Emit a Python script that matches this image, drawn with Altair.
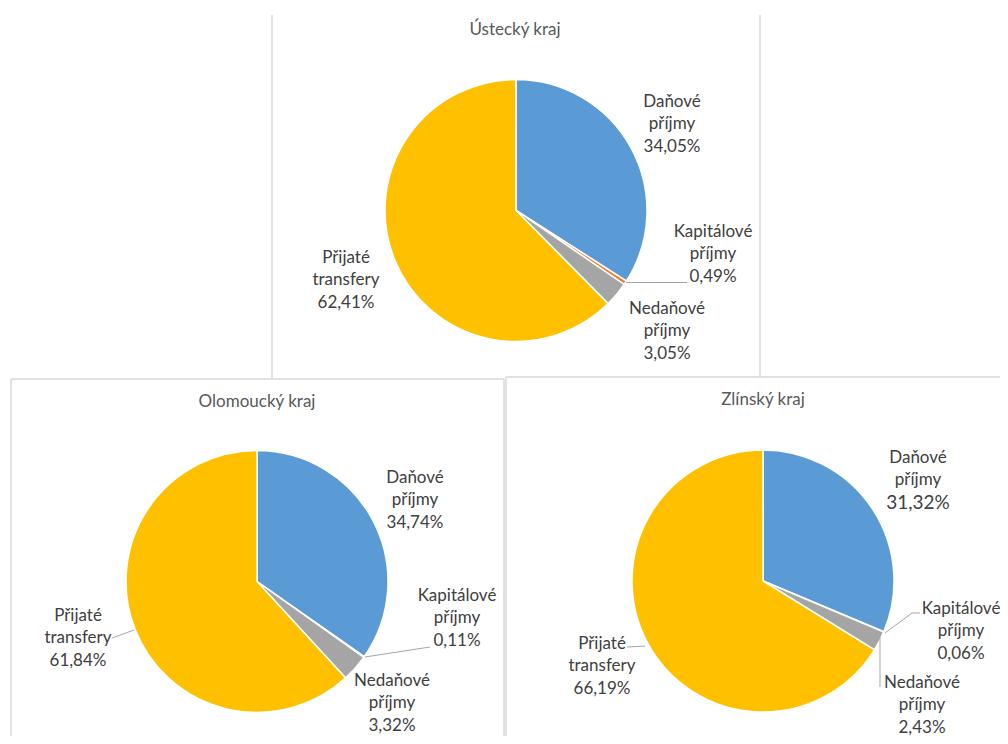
import altair as alt
import pandas as pd

# ---------------- data ----------------
REGIONS = ["Ústecký kraj", "Olomoucký kraj", "Zlínský kraj"]
CATEGORIES = ["Daňové příjmy", "Kapitálové příjmy", "Nedaňové příjmy", "Přijaté transfery"]
USTECKY = [34.05, 0.49, 3.05, 62.41]
OLOMOUCKY = [34.74, 0.11, 3.32, 61.84]
ZLINSKY = [31.32, 0.06, 2.43, 66.19]
VALUES = [USTECKY, OLOMOUCKY, ZLINSKY]

COLORS = ["#5B9BD5", "#ED7D31", "#A5A5A5", "#FFC000"]

# ---------------- layout (page pixels) ----------------
OFF = 8  # page margin
PIE_CENTERS = [(516, 210.5), (257, 581.5), (763, 581)]
RADIUS = 131
TITLE_POS = [(515, 30), (257, 402), (763, 400)]
# label middle-line positions
LABEL_POS = [
    [(672, 124), (713, 254), (667, 331), (346, 280)],
    [(415, 500), (457, 618), (392, 703), (78, 638)],
    [(918, 480), (961, 631), (922, 705), (602, 666)],
]
BIG_PCT = {(2, 0): 19}  # Zlín Daňové percentage drawn larger
LINE_H = 22.5
FONT = "Lato"

LEADERS = [
    (626, 282.5, 687, 282.5),
    (365, 657, 430, 647),
    (112, 638, 134, 630),
    (627, 647, 645, 646),
    (885, 633, 912, 613),
    (912, 613, 920, 613),
    (880, 637, 880, 687),
]
BORDERS = [
    (272, 15, 272, 378),
    (760, 15, 760, 377),
    (11, 379, 504, 379),
    (11, 379, 11, 744),
    (504, 379, 504, 744),
    (506, 377, 1008, 377),
    (506, 377, 506, 744),
]


def seg_df(segs):
    return pd.DataFrame(
        [{"x": a - OFF, "y": b - OFF, "x2": c - OFF, "y2": d - OFF} for a, b, c, d in segs]
    )


def fmt(v):
    return f"{v:.2f}".replace(".", ",") + "%"


layers = []

# borders
layers.append(
    alt.Chart(seg_df(BORDERS)).mark_rule(color="#d9d9d9", strokeWidth=1.5).encode(
        x=alt.X("x:Q", scale=None, axis=None),
        y=alt.Y("y:Q", scale=None, axis=None),
        x2="x2:Q",
        y2="y2:Q",
    )
)

color_scale = alt.Scale(domain=CATEGORIES, range=COLORS)

label_rows = []
title_rows = []
for i, region in enumerate(REGIONS):
    df = pd.DataFrame({"cat": CATEGORIES, "value": VALUES[i], "idx": list(range(4))})
    cx, cy = PIE_CENTERS[i]
    layers.append(
        alt.Chart(df).mark_arc(outerRadius=RADIUS, stroke="white", strokeWidth=1.5).encode(
            theta=alt.Theta("value:Q", stack=True),
            color=alt.Color("cat:N", scale=color_scale, legend=None),
            order=alt.Order("idx:Q"),
            x=alt.value(cx - OFF),
            y=alt.value(cy - OFF),
        )
    )
    tx, ty = TITLE_POS[i]
    title_rows.append({"t": region, "x": tx - OFF, "y": ty - OFF})
    for j, cat in enumerate(CATEGORIES):
        lx, ly = LABEL_POS[i][j]
        lines = cat.split(" ") + [fmt(VALUES[i][j])]
        for k, line in enumerate(lines):
            size = 17
            if k == len(lines) - 1 and (i, j) in BIG_PCT:
                size = BIG_PCT[(i, j)]
            label_rows.append(
                {"t": line, "x": lx - OFF, "y": ly - OFF + (k - 1) * LINE_H, "s": size}
            )

# leader lines
layers.append(
    alt.Chart(seg_df(LEADERS)).mark_rule(color="#a6a6a6", strokeWidth=1).encode(
        x=alt.X("x:Q", scale=None, axis=None),
        y=alt.Y("y:Q", scale=None, axis=None),
        x2="x2:Q",
        y2="y2:Q",
    )
)

layers.append(
    alt.Chart(pd.DataFrame(label_rows)).mark_text(
        font=FONT, color="#404040", align="center", baseline="middle"
    ).encode(
        x=alt.X("x:Q", scale=None, axis=None),
        y=alt.Y("y:Q", scale=None, axis=None),
        text="t:N",
        size=alt.Size("s:Q", scale=None, legend=None),
    )
)

layers.append(
    alt.Chart(pd.DataFrame(title_rows)).mark_text(
        font=FONT, color="#595959", align="center", baseline="middle", fontSize=17
    ).encode(
        x=alt.X("x:Q", scale=None, axis=None),
        y=alt.Y("y:Q", scale=None, axis=None),
        text="t:N",
    )
)

chart = (
    alt.layer(*layers)
    .properties(width=992, height=728, autosize="none", padding=0)
    .configure_view(stroke=None)
)

chart.save("out.html", embed_options={"renderer": "svg", "actions": False})
